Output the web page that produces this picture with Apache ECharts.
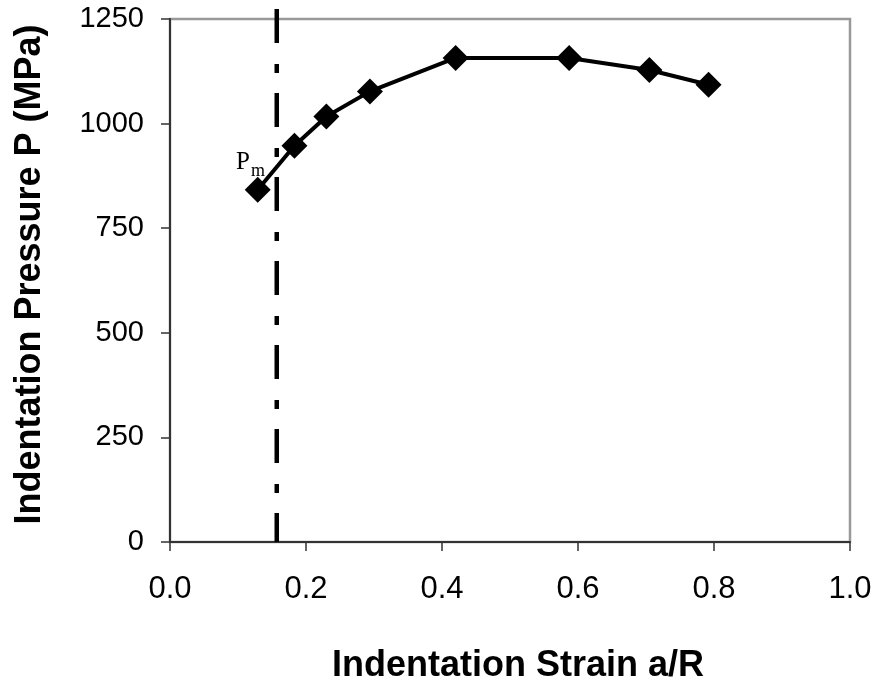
<!DOCTYPE html>
<html>
<head>
<meta charset="utf-8">
<script src="https://cdn.jsdelivr.net/npm/echarts@6/dist/echarts.min.js"></script>
<style>
  html, body { margin: 0; padding: 0; background: #fff; }
  #main { width: 877px; height: 681px; }
</style>
</head>
<body>
<div id="main"></div>
<script>
// indentation strain a/R
var strain = [0.129, 0.183, 0.230, 0.294, 0.420, 0.587, 0.705, 0.792];
// indentation pressure (MPa)
var pressure = [842, 947, 1017, 1077, 1157, 1157, 1128, 1093];
// vertical dash-dot marker at Pm
var pmStrain = [0.157, 0.157];
var pmPressure = [1274, 0];

var xTicks = [0, 0.2, 0.4, 0.6, 0.8, 1.0];
var yTicks = [0, 250, 500, 750, 1000, 1250];

var chart = echarts.init(document.getElementById('main'), null, { renderer: 'canvas' });

var pts = strain.map(function (x, i) { return [x, pressure[i]]; });
var pmLine = pmStrain.map(function (x, i) { return [x, pmPressure[i]]; });

var option = {
  backgroundColor: '#fff',
  animation: false,
  grid: {
    left: 170,
    right: 27,
    top: 19,
    bottom: 139,
    outerBoundsMode: 'none',
    containLabel: false,
    show: true,
    borderColor: '#999',
    borderWidth: 2.5
  },
  xAxis: {
    type: 'value',
    min: xTicks[0],
    max: xTicks[xTicks.length - 1],
    interval: 0.2,
    name: 'Indentation Strain a/R',
    nameLocation: 'middle',
    nameGap: 106,
    nameTextStyle: {
      fontFamily: 'Liberation Sans', fontWeight: 'bold', fontSize: 36, color: '#000',
      padding: [0, 0, 0, 16]
    },
    axisLine: { lineStyle: { color: '#333', width: 2 } },
    axisTick: { inside: false, length: 9, lineStyle: { color: '#333', width: 1.5 } },
    axisLabel: {
      margin: 32,
      fontFamily: 'Liberation Sans',
      fontSize: 31,
      color: '#000',
      formatter: function (v) { return v.toFixed(1); }
    },
    splitLine: { show: false }
  },
  yAxis: {
    type: 'value',
    min: yTicks[0],
    max: yTicks[yTicks.length - 1],
    interval: 250,
    name: 'Indentation Pressure P (MPa)',
    nameLocation: 'middle',
    nameGap: 122,
    nameTextStyle: {
      fontFamily: 'Liberation Sans', fontWeight: 'bold', fontSize: 36, color: '#000',
      padding: [0, 0, 0, 12]
    },
    axisLine: { show: true, lineStyle: { color: '#333', width: 2 } },
    axisTick: { show: true, inside: false, length: 9, lineStyle: { color: '#333', width: 1.5 } },
    axisLabel: {
      margin: 26,
      fontFamily: 'Liberation Sans',
      fontSize: 29,
      color: '#000',
      formatter: function (v) { return String(v); }
    },
    splitLine: { show: false }
  },
  series: [
    {
      type: 'line',
      data: pmLine,
      symbol: 'none',
      clip: false,
      lineStyle: { color: '#000', width: 4.5, type: [34, 21, 9, 20] },
      z: 1
    },
    {
      type: 'line',
      data: pts,
      symbol: 'diamond',
      symbolSize: 26,
      itemStyle: { color: '#000' },
      lineStyle: { color: '#000', width: 4 },
      z: 2
    }
  ],
  graphic: [
    {
      type: 'text',
      left: 236,
      top: 150,
      style: { text: 'P', font: '25px "Liberation Serif"', fill: '#000' }
    },
    {
      type: 'text',
      left: 251,
      top: 162,
      style: { text: 'm', font: '18px "Liberation Serif"', fill: '#000' }
    }
  ]
};

chart.setOption(option);
</script>
</body>
</html>
